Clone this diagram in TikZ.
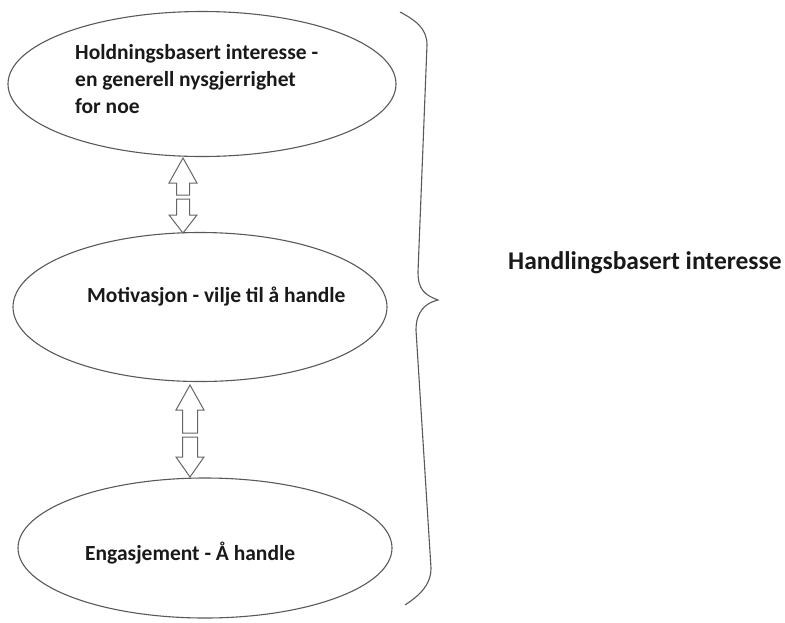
\documentclass[tikz,border=0pt]{standalone}
\usepackage{fontspec}
\setmainfont{Carlito}
\usetikzlibrary{shapes.geometric}
\begin{document}
\begin{tikzpicture}[x=1pt,y=-1pt,
  oval/.style={draw=black!65, line width=1.1pt, ellipse, inner sep=0pt},
  txt/.style={font=\bfseries\fontsize{21.5}{27}\selectfont, text=black!90, inner sep=0pt, align=left},
  arr/.style={draw=black!60, line width=1pt, line join=miter, fill=white}]
\useasboundingbox (0,0) rectangle (785,622);
% ellipses
\node[oval, minimum width=388pt, minimum height=145pt] (e1) at (202,84) {};
\node[oval, minimum width=374pt, minimum height=149pt] (e2) at (200,307) {};
\node[oval, minimum width=374pt, minimum height=140pt] (e3) at (205,548) {};
% texts
\node[txt, anchor=west] (t1) at (75,79) {Holdningsbasert interesse -\\en generell nysgjerrighet\\for noe};
\node[txt, anchor=west] (t2) at (87,297) {Motivasjon - vilje til å handle};
\node[txt, anchor=west] (t3) at (85,553) {Engasjement - Å handle};
\node[font=\bfseries\fontsize{25.5}{30}\selectfont, text=black!90, inner sep=0pt, anchor=west] (t4) at (508,263) {Handlingsbasert interesse};
% arrow pair 1
\coordinate (a1) at (183,158);
\coordinate (b1) at (183,233);
\draw[arr] (a1) -- ++(14,25) -- ++(-7.5,0) -- ++(0,12) -- ++(-13,0) -- ++(0,-12) -- ++(-7.5,0) -- cycle;
\draw[arr] (b1) -- ++(14,-18) -- ++(-7.5,0) -- ++(0,-16) -- ++(-13,0) -- ++(0,16) -- ++(-7.5,0) -- cycle;
% arrow pair 2
\coordinate (a2) at (190,385);
\coordinate (b2) at (190,477);
\draw[arr] (a2) -- ++(14,25) -- ++(-6.5,0) -- ++(0,23) -- ++(-15,0) -- ++(0,-23) -- ++(-6.5,0) -- cycle;
\draw[arr] (b2) -- ++(14,-20) -- ++(-6.5,0) -- ++(0,-20) -- ++(-15,0) -- ++(0,20) -- ++(-6.5,0) -- cycle;
% brace
\coordinate (bt) at (400,12);
\coordinate (bm) at (438,300);
\coordinate (bb) at (405,605);
\draw[black!65, line width=1.1pt] (bt) .. controls (415,20) and (427,28) .. (427,45) -- (418,272) .. controls (418,290) and (425,295) .. (bm) .. controls (425,303) and (416,312) .. (416,330) -- (431,568) .. controls (431,585) and (420,595) .. (bb);
\end{tikzpicture}
\end{document}
